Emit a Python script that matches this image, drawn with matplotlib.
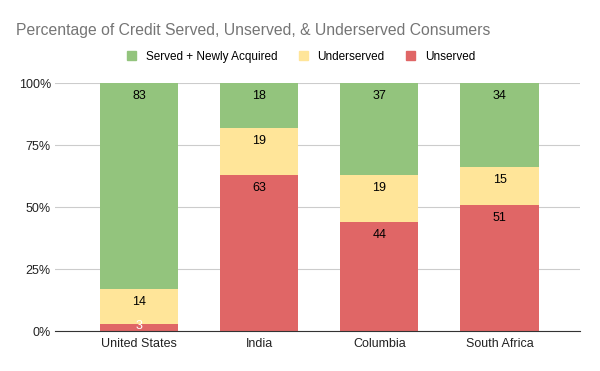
import matplotlib.pyplot as plt
from matplotlib.patches import Patch

countries = ["United States", "India", "Columbia", "South Africa"]
unserved = [3, 63, 44, 51]
underserved = [14, 19, 19, 15]
served = [83, 18, 37, 34]

c_served = "#93c47d"
c_under = "#ffe599"
c_unserved = "#e06666"

plt.rcParams["font.family"] = ["Liberation Sans", "DejaVu Sans"]

fig = plt.figure(figsize=(6, 3.71), dpi=100)
ax = fig.add_axes([55 / 600, 1 - 331 / 371, 525 / 600, 248 / 371])

x = range(len(countries))
w = 0.65
ax.bar(x, unserved, w, color=c_unserved, zorder=2)
ax.bar(x, underserved, w, bottom=unserved, color=c_under, zorder=2)
bott = [a + b for a, b in zip(unserved, underserved)]
ax.bar(x, served, w, bottom=bott, color=c_served, zorder=2)

off = 5.3
for i in x:
    if unserved[i] < 8:
        ax.text(i, unserved[i] / 2 + 0.5, str(unserved[i]), ha="center", va="center",
                fontsize=9, color="white", zorder=3)
    else:
        ax.text(i, unserved[i] - off, str(unserved[i]), ha="center", va="center",
                fontsize=9, color="black", zorder=3)
    ax.text(i, bott[i] - off, str(underserved[i]), ha="center", va="center",
            fontsize=9, color="black", zorder=3)
    ax.text(i, 100 - off, str(served[i]), ha="center", va="center",
            fontsize=9, color="black", zorder=3)

ax.set_xlim(-0.7, 3.67)
ax.set_ylim(0, 100)
ax.set_yticks([0, 25, 50, 75, 100])
ax.set_yticklabels(["0%", "25%", "50%", "75%", "100%"])
ax.set_xticks(list(x))
ax.set_xticklabels(countries)
ax.yaxis.grid(True, color="#cccccc", linewidth=0.8, zorder=0)
ax.tick_params(axis="both", length=0, labelsize=9, colors="#222222")
ax.tick_params(axis="y", pad=3)
ax.tick_params(axis="x", pad=5)
for s in ["top", "right", "left"]:
    ax.spines[s].set_visible(False)
ax.spines["bottom"].set_color("#333333")
ax.spines["bottom"].set_zorder(4)

fig.text(16 / 600, 1 - 30 / 371, "Percentage of Credit Served, Unserved, & Underserved Consumers",
         fontsize=11.3, color="#757575", va="center", ha="left")

handles = [Patch(color=c_served), Patch(color=c_under), Patch(color=c_unserved)]
fig.legend(handles, ["Served + Newly Acquired", "Underserved", "Unserved"],
           loc="center", bbox_to_anchor=(301 / 600, 1 - 57 / 371), ncol=3,
           frameon=False, fontsize=8.5, handlelength=0.8, handleheight=0.8,
           columnspacing=1.8, handletextpad=0.8)

fig.savefig("out.png", dpi=100)
